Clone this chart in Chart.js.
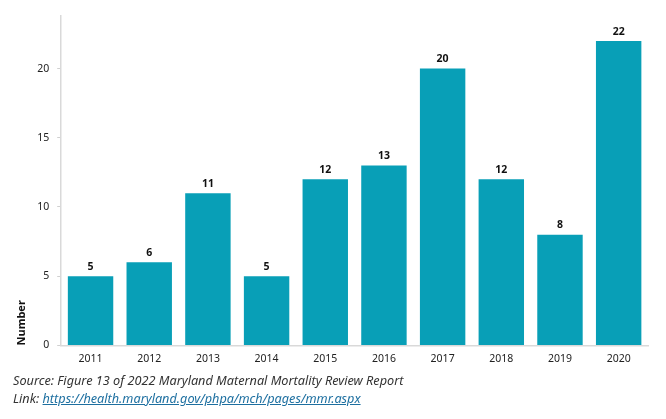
<!DOCTYPE html>
<html>
<head>
<meta charset="utf-8">
<script src="https://cdn.jsdelivr.net/npm/chart.js@4"></script>
<style>
  html, body { margin: 0; padding: 0; background: #fff; }
  body { width: 666px; height: 419px; position: relative; overflow: hidden; font-family: "Noto Sans", sans-serif; }
  #wrap { position: absolute; left: 0; top: 0; width: 666px; height: 372px; }
  .src { position: absolute; left: 13px; font-size: 12.7px; font-style: italic; color: #333; white-space: nowrap; }
  .src a { color: #1d6fa0; text-decoration: underline; }
</style>
</head>
<body>
<div id="wrap"><canvas id="c"></canvas></div>
<div class="src" style="top:371px;">Source: Figure 13 of 2022 Maryland Maternal Mortality Review Report</div>
<div class="src" style="top:389px;">Link: <a href="#">https://health.maryland.gov/phpa/mch/pages/mmr.aspx</a></div>
<script>
const categories = ["2011","2012","2013","2014","2015","2016","2017","2018","2019","2020"];
const deaths = [5, 6, 11, 5, 12, 13, 20, 12, 8, 22];
const yTicks = [0, 5, 10, 15, 20];

const labelPlugin = {
  id: 'barLabels',
  afterDatasetsDraw(chart) {
    const ctx = chart.ctx;
    const meta = chart.getDatasetMeta(0);
    ctx.save();
    ctx.font = 'bold 10.5px "Noto Sans", sans-serif';
    ctx.fillStyle = '#111';
    ctx.textAlign = 'center';
    ctx.textBaseline = 'bottom';
    meta.data.forEach((bar, i) => {
      ctx.fillText(String(chart.data.datasets[0].data[i]), bar.x, bar.y - 4);
    });
    ctx.restore();
  }
};

new Chart(document.getElementById('c'), {
  type: 'bar',
  data: {
    labels: categories,
    datasets: [{
      data: deaths,
      backgroundColor: '#089fb7',
      borderWidth: 0,
      barPercentage: 0.86,
      categoryPercentage: 0.9
    }]
  },
  plugins: [labelPlugin],
  options: {
    responsive: true,
    maintainAspectRatio: false,
    animation: false,
    layout: { padding: { left: 15, right: 18, top: 16, bottom: 0 } },
    plugins: { legend: { display: false }, tooltip: { enabled: false } },
    scales: {
      x: {
        grid: { display: false, drawTicks: false },
        border: { color: '#d9d9d9', width: 1.5 },
        ticks: { color: '#222', font: { size: 10.5, family: '"Noto Sans", sans-serif' }, padding: 7 }
      },
      y: {
        min: 0,
        max: 23.8,
        afterBuildTicks(scale) { scale.ticks = yTicks.map(v => ({ value: v })); },
        grid: { display: true, drawOnChartArea: false, drawTicks: true, tickLength: 4, color: '#d0d0d0' },
        border: { color: '#d9d9d9', width: 1.5 },
        ticks: { color: '#222', font: { size: 10.5, family: '"Noto Sans", sans-serif' }, padding: 8 },
        title: {
          display: true, text: 'Number', align: 'start',
          color: '#111', font: { size: 11, weight: 'bold', family: '"Noto Sans", sans-serif' },
          padding: { top: 0, bottom: 1 }
        }
      }
    }
  }
});
</script>
</body>
</html>
